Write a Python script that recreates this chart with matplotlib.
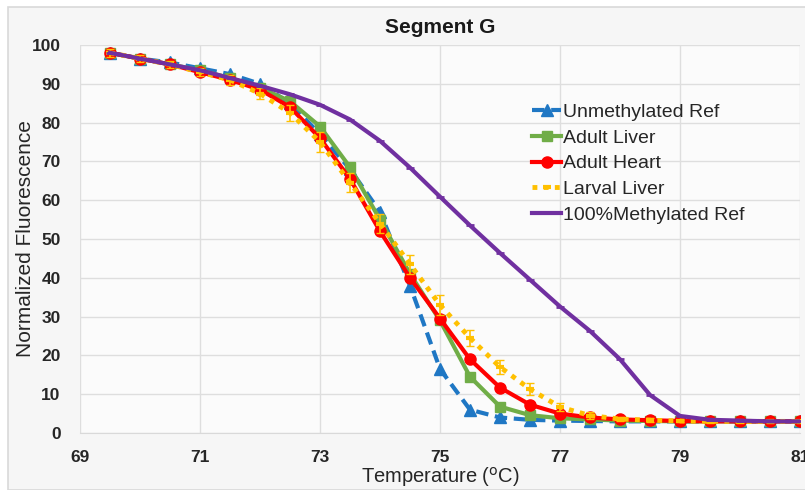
import numpy as np
import matplotlib
matplotlib.use("Agg")
import matplotlib.pyplot as plt
from matplotlib.patches import Rectangle

plt.rcParams['font.family'] = ['Liberation Sans', 'DejaVu Sans']

# melting temperatures (°C), one reading every 0.5 degree
temps = [69.5, 70, 70.5, 71, 71.5, 72, 72.5, 73, 73.5, 74, 74.5, 75, 75.5,
         76, 76.5, 77, 77.5, 78, 78.5, 79, 79.5, 80, 80.5, 81]

unmethylated = [98, 96.5, 95.5, 94, 92.5, 90, 85, 77, 68, 57, 38, 16.5, 6,
                4, 3.4, 3.2, 3.1, 3, 3, 3, 3, 3, 3, 3]
adult_liver = [98, 96.5, 95, 93.5, 91.5, 89, 85.5, 79, 68.5, 55, 41, 29, 14.5,
               6.8, 4.6, 3.8, 3.5, 3.2, 3.1, 3, 3, 3, 3, 3]
adult_heart = [98, 96.5, 95, 93, 91, 88.5, 84, 76, 65.5, 52, 40, 29.5, 19,
               11.7, 7.3, 5, 4, 3.5, 3.3, 3.1, 3, 3, 3, 3]
larval_liver = [98, 96.5, 95, 93, 91, 87.5, 82.5, 75, 64.5, 54, 43.5, 33, 24.5,
                17, 11.3, 6.7, 4.5, 3.6, 3.3, 3.1, 3, 3, 3, 3]
larval_err = [1, 1, 1, 1, 1.2, 1.5, 2, 2.5, 2.5, 2.5, 2.5, 2.5, 2,
              1.8, 1.5, 1, 0.8, 0.5, 0.5, 0.3, 0.3, 0.3, 0.3, 0.3]
methylated = [98, 96.5, 95, 93.5, 91.5, 89.5, 87.3, 84.6, 80.8, 75.3, 68.4, 60.9, 53.5,
              46.4, 39.5, 32.6, 26.3, 19, 9.8, 4.4, 3.4, 3.2, 3, 3]

fig = plt.figure(figsize=(8.05, 4.9), dpi=100)
fig.patch.set_facecolor('white')
# light panel with a thin border behind everything
fig.add_artist(Rectangle((0.01, 0.0), 0.995, 0.985, transform=fig.transFigure,
                         facecolor='#f6f6f6', edgecolor='#d9d9d9', linewidth=1.2,
                         zorder=-10))

ax = fig.add_axes([0.0994, 0.1163, 0.8944, 0.7918])
ax.set_facecolor('#fbfbfb')

h1, = ax.plot(temps, unmethylated, color='#1f77c4', linestyle=(0, (3, 1.6)), linewidth=3,
              marker='^', markersize=8, label='Unmethylated Ref', zorder=3)
h2, = ax.plot(temps, adult_liver, color='#70ad47', linewidth=3, marker='s', markersize=7,
              label='Adult Liver', zorder=4)
h3, = ax.plot(temps, adult_heart, color='#ff0000', linewidth=3, marker='o', markersize=8,
              label='Adult Heart', zorder=5)
ax.errorbar(temps, larval_liver, yerr=larval_err, color='#ffc000', linestyle='none',
            capsize=3, elinewidth=1.2, zorder=6)
h4, = ax.plot(temps, larval_liver, color='#ffc000', linestyle=(0, (1, 1.3)),
              linewidth=3.5, marker='_', markersize=6, markeredgewidth=3,
              label='Larval Liver', zorder=6)
h5, = ax.plot(temps, methylated, color='#7030a0', linewidth=3, marker='_', markersize=6,
              markeredgewidth=2, label='100%Methylated Ref', zorder=7)

ax.set_xlim(69, 81)
ax.set_ylim(0, 100)
ax.set_xticks(np.arange(69, 82, 2))
ax.set_yticks(np.arange(0, 101, 10))
ax.grid(True, which='major', color='#dedede', linewidth=1)
ax.set_axisbelow(True)
for s in ax.spines.values():
    s.set_visible(False)
ax.spines['bottom'].set_visible(True)
ax.spines['bottom'].set_color('#d9d9d9')
ax.tick_params(which='both', length=0)
ax.tick_params(axis='x', pad=12)
ax.tick_params(axis='y', pad=14)
for lab in ax.get_xticklabels() + ax.get_yticklabels():
    lab.set_fontweight('bold')
    lab.set_fontsize(12.5)
    lab.set_color('#262626')

ax.set_xlabel('Temperature ($^{\\rm o}$C)', fontsize=14.5, color='#262626')
ax.xaxis.set_label_coords(0.5, -0.083)
ax.set_ylabel('Normalized Fluorescence', fontsize=15, color='#262626')
ax.yaxis.set_label_coords(-0.062, 0.5)
ax.set_title('Segment G', fontsize=15, fontweight='bold', color='#1a1a1a', pad=9)

leg = ax.legend(handles=[h1, h2, h3, h4, h5], loc='upper left',
                bbox_to_anchor=(0.617, 0.87), frameon=False,
                fontsize=14, handlelength=1.5, handletextpad=0.1, labelspacing=0.42,
                borderaxespad=0)
for t in leg.get_texts():
    t.set_color('#262626')

fig.savefig('out.png', dpi=100)
